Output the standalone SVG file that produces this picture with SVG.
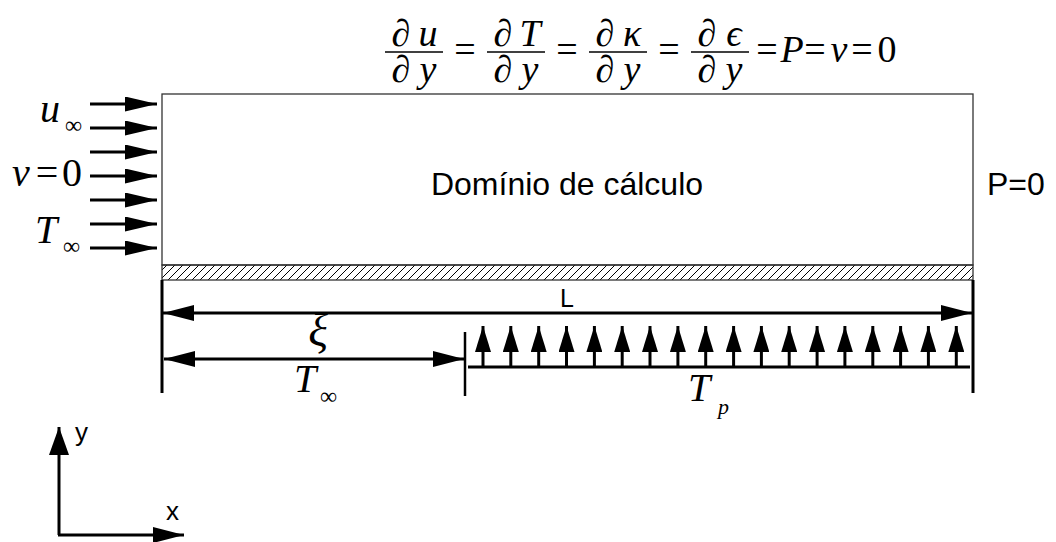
<svg xmlns="http://www.w3.org/2000/svg" width="1056" height="542" viewBox="0 0 1056 542">
<style>
.m{font-family:"Liberation Serif","Times New Roman",serif;font-style:italic;fill:#000}
.mu{font-family:"Liberation Serif","Times New Roman",serif;font-style:normal;fill:#000}
.s{font-family:"Liberation Sans",Arial,sans-serif;fill:#000}
.thick{stroke:#000;stroke-width:3;fill:none}
.med{stroke:#000;stroke-width:2.5;fill:none}
</style>
<defs>
<marker id="hin" markerUnits="userSpaceOnUse" markerWidth="32" markerHeight="15" refX="32" refY="7.5" orient="auto"><path d="M0,0 L32,7.5 L0,15 z" fill="#000"/></marker>
<marker id="hdim" markerUnits="userSpaceOnUse" markerWidth="31" markerHeight="16" refX="31" refY="8" orient="auto-start-reverse"><path d="M0,0 L31,8 L0,16 z" fill="#000"/></marker>
<marker id="hup" markerUnits="userSpaceOnUse" markerWidth="26" markerHeight="16" refX="26" refY="8" orient="auto"><path d="M0,0 L26,8 L0,16 z" fill="#000"/></marker>
<marker id="hax" markerUnits="userSpaceOnUse" markerWidth="28" markerHeight="20" refX="28" refY="10" orient="auto"><path d="M0,0 L28,10 L0,20 z" fill="#000"/></marker>
<pattern id="hatch" patternUnits="userSpaceOnUse" width="8" height="8"><path d="M-2,2 L2,-2 M0,8 L8,0 M6,10 L10,6" stroke="#000" stroke-width="1"/></pattern>
</defs>

<g id="domain">
<rect x="162" y="94" width="811" height="171" fill="#fff" stroke="#333" stroke-width="1.3"/>
<rect x="162" y="265" width="811" height="15" fill="url(#hatch)" stroke="#333" stroke-width="1.3"/>
<text class="s" x="567" y="195" font-size="32" text-anchor="middle">Domínio de cálculo</text>
</g>

<g id="top-bc" font-size="38" text-anchor="middle">
<g class="mu">
<text x="401" y="46">∂</text><text x="401" y="82">∂</text>
<text x="503" y="46">∂</text><text x="503" y="82">∂</text>
<text x="605" y="46">∂</text><text x="605" y="82">∂</text>
<text x="707" y="46">∂</text><text x="707" y="82">∂</text>
<text x="465" y="62">=</text>
<text x="567" y="62">=</text>
<text x="669" y="62">=</text>
<text x="767" y="62">=</text>
<text x="815" y="62">=</text>
<text x="862" y="62">=</text>
<text x="887" y="62">0</text>
</g>
<g class="m">
<text x="428" y="46">u</text><text x="428" y="82">y</text>
<text x="530" y="46">T</text><text x="530" y="82">y</text>
<text x="632" y="46">κ</text><text x="632" y="82">y</text>
<text x="734" y="46">ϵ</text><text x="734" y="82">y</text>
<text x="792" y="62">P</text>
<text x="839" y="62">v</text>
</g>
<g stroke="#000" stroke-width="1.6">
<line x1="385" y1="52" x2="443" y2="52"/>
<line x1="487" y1="52" x2="545" y2="52"/>
<line x1="589" y1="52" x2="647" y2="52"/>
<line x1="691" y1="52" x2="749" y2="52"/>
</g>
</g>

<g id="inflow">
<g class="thick" marker-end="url(#hin)">
<line x1="90" y1="104" x2="157" y2="104"/>
<line x1="90" y1="128" x2="157" y2="128"/>
<line x1="90" y1="152" x2="157" y2="152"/>
<line x1="90" y1="176" x2="157" y2="176"/>
<line x1="90" y1="200" x2="157" y2="200"/>
<line x1="90" y1="224" x2="157" y2="224"/>
<line x1="90" y1="248" x2="157" y2="248"/>
</g>
<text class="m" x="40" y="122" font-size="40">u</text>
<text class="mu" x="65" y="133" font-size="24">∞</text>
<text class="m" x="12" y="186" font-size="40">v</text>
<text class="mu" x="47" y="186" font-size="40" text-anchor="middle">=</text>
<text class="mu" x="72" y="186" font-size="40" text-anchor="middle">0</text>
<text class="m" x="35" y="243" font-size="40">T</text>
<text class="mu" x="63" y="254" font-size="24">∞</text>
</g>

<g id="outlet">
<text class="s" x="987" y="195" font-size="32">P=0</text>
</g>

<g id="dimensions">
<line class="thick" x1="162" y1="280" x2="162" y2="393"/>
<line class="thick" x1="973" y1="280" x2="973" y2="393"/>
<line class="med" x1="465" y1="332" x2="465" y2="396"/>
<line class="thick" x1="163" y1="313" x2="972" y2="313" marker-start="url(#hdim)" marker-end="url(#hdim)"/>
<text class="s" x="567" y="307" font-size="25" text-anchor="middle">L</text>
<line class="thick" x1="164" y1="359" x2="464" y2="359" marker-start="url(#hdim)" marker-end="url(#hdim)"/>
<text class="m" x="318" y="346" font-size="46" text-anchor="middle">ξ</text>
<text class="m" x="294" y="392" font-size="40">T</text>
<text class="mu" x="320" y="404" font-size="24">∞</text>
</g>

<g id="wall-temperature">
<line class="thick" x1="468" y1="367" x2="970" y2="367"/>
<g class="thick" marker-end="url(#hup)">
<line x1="483" y1="367" x2="483" y2="326"/>
<line x1="510.8" y1="367" x2="510.8" y2="326"/>
<line x1="538.7" y1="367" x2="538.7" y2="326"/>
<line x1="566.5" y1="367" x2="566.5" y2="326"/>
<line x1="594.4" y1="367" x2="594.4" y2="326"/>
<line x1="622.2" y1="367" x2="622.2" y2="326"/>
<line x1="650" y1="367" x2="650" y2="326"/>
<line x1="677.9" y1="367" x2="677.9" y2="326"/>
<line x1="705.7" y1="367" x2="705.7" y2="326"/>
<line x1="733.6" y1="367" x2="733.6" y2="326"/>
<line x1="761.4" y1="367" x2="761.4" y2="326"/>
<line x1="789.2" y1="367" x2="789.2" y2="326"/>
<line x1="817.1" y1="367" x2="817.1" y2="326"/>
<line x1="844.9" y1="367" x2="844.9" y2="326"/>
<line x1="872.8" y1="367" x2="872.8" y2="326"/>
<line x1="900.6" y1="367" x2="900.6" y2="326"/>
<line x1="928.4" y1="367" x2="928.4" y2="326"/>
<line x1="956.3" y1="367" x2="956.3" y2="326"/>
</g>
<text class="m" x="688" y="401" font-size="40">T</text>
<text class="m" x="718" y="414" font-size="22">p</text>
</g>

<g id="axes">
<line class="thick" x1="59" y1="535" x2="59" y2="427" marker-end="url(#hax)"/>
<line class="thick" x1="58" y1="535" x2="184" y2="535" marker-end="url(#hdim)"/>
<text class="s" x="75" y="441" font-size="26">y</text>
<text class="s" x="166" y="520" font-size="26">x</text>
</g>
</svg>
